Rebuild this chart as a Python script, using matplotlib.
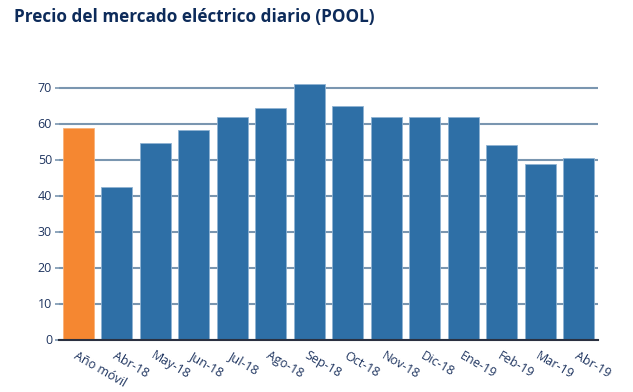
import matplotlib
matplotlib.use("Agg")
import matplotlib.pyplot as plt

categories = ["Año móvil", "Abr-18", "May-18", "Jun-18", "Jul-18", "Ago-18", "Sep-18",
              "Oct-18", "Nov-18", "Dic-18", "Ene-19", "Feb-19", "Mar-19", "Abr-19"]
values = [58.8, 42.5, 54.7, 58.3, 61.7, 64.2, 71.1, 65.0, 61.8, 61.7, 61.8, 53.9, 48.75, 50.4]
yticks = [0, 10, 20, 30, 40, 50, 60, 70]

plt.rcParams['font.family'] = ['Open Sans', 'DejaVu Sans']

W, H = 633, 392
fig = plt.figure(figsize=(W / 100, H / 100), dpi=100)
left, right, bottom, top = 59, 598, 339.5, 69.5
ax = fig.add_axes([left / W, 1 - bottom / H, (right - left) / W, (bottom - top) / H])

colors = ["#f58731"] + ["#2e6fa6"] * (len(values) - 1)
edges = ["#f9b27a"] + ["#8fb3d3"] * (len(values) - 1)
x = list(range(len(values)))
ax.bar(x, values, width=0.8, color=colors, edgecolor=edges, linewidth=0.6, zorder=3)

ax.set_xlim(-0.5, len(values) - 0.5)
ax.set_ylim(0, 75)
ax.set_yticks(yticks)
ax.set_yticklabels([str(t) for t in yticks], fontsize=9, color="#1f3560")
ax.yaxis.grid(True, color="#7a96b0", linewidth=1.5, zorder=1)
ax.tick_params(axis='y', length=3, width=1.2, color="#7a96b0", pad=2)
ax.set_xticks(x)
ax.set_xticklabels(categories, fontsize=9, color="#1f3560", rotation=-30,
                   ha='left', va='top', rotation_mode='anchor')
ax.tick_params(axis='x', length=0, pad=7)
for s in ["top", "right", "left"]:
    ax.spines[s].set_visible(False)
ax.spines["bottom"].set_color("#2a3040")
ax.spines["bottom"].set_linewidth(1.5)
ax.spines["bottom"].set_zorder(4)

fig.text(14 / W, 1 - 17 / H, "Precio del mercado eléctrico diario (POOL)",
         fontsize=12.3, fontweight='bold', color="#0d2b5a", ha='left', va='center')

fig.savefig("out.png", dpi=100)
